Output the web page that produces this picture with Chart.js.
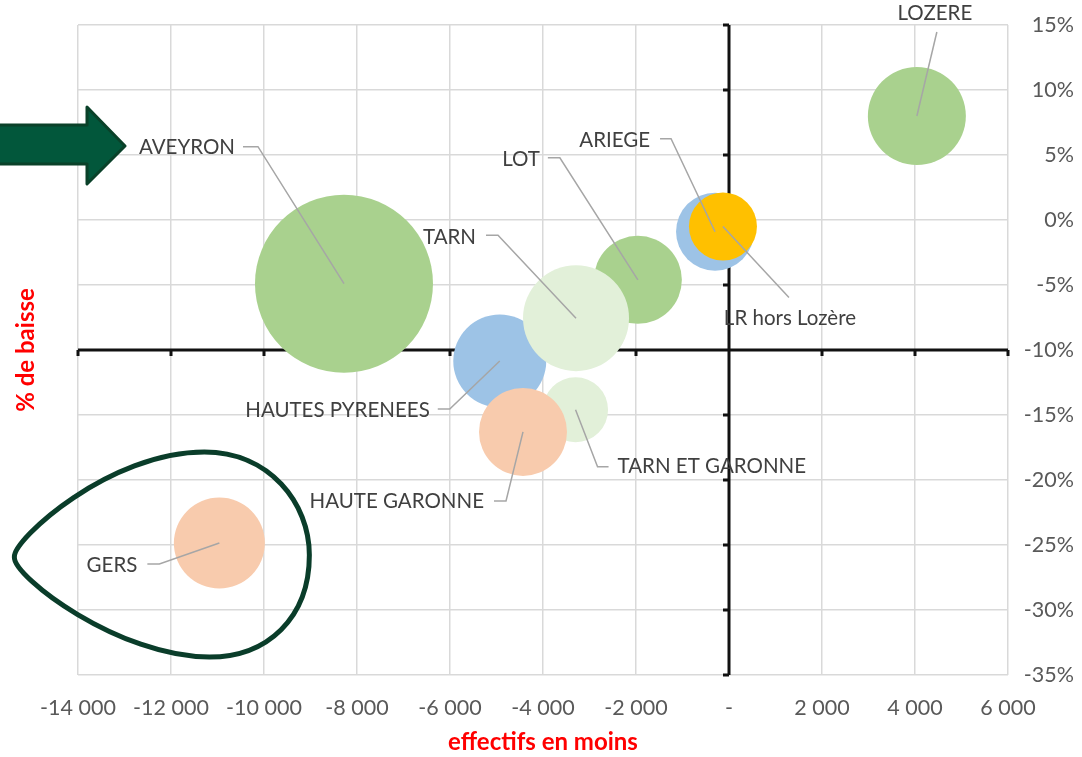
<!DOCTYPE html>
<html>
<head>
<meta charset="utf-8">
<script src="https://cdn.jsdelivr.net/npm/chart.js@4"></script>
<style>
  html, body { margin: 0; padding: 0; background: #fff; }
</style>
</head>
<body>
<canvas id="chart" width="1082" height="757"></canvas>
<script>
var departements = ['AVEYRON', 'GERS', 'LOZERE', 'LOT', 'HAUTES PYRENEES', 'TARN ET GARONNE', 'HAUTE GARONNE', 'TARN', 'ARIEGE', 'LR hors Lozère'];
var effectifs = [-8280, -10960, 4040, -1960, -4930, -3300, -4430, -3290, -300, -130];
var baisse = [-4.9, -24.85, 8.0, -4.6, -10.85, -14.6, -16.3, -7.55, -0.9, -0.5];
var taille = [89, 45.5, 49, 44, 46.5, 32.5, 44, 53, 39, 34];
var couleurs = ['#A9D18E', '#F8CBAD', '#A9D18E', '#A9D18E', '#9DC3E6', '#E2F0D9', '#F8CBAD', '#E2F0D9', '#9DC3E6', '#FFC000'];
var xTicks = [-14000, -12000, -10000, -8000, -6000, -4000, -2000, 0, 2000, 4000, 6000];
var yTicks = [15, 10, 5, 0, -5, -10, -15, -20, -25, -30, -35];

// placement des etiquettes (decalage en px par rapport au centre de la bulle)
var etiquettes = {
  'LOZERE': { dx: 18, dy: -103, align: 'center', path: [[20, -84]] },
  'AVEYRON': { dx: -109, dy: -136, align: 'right', path: [[-101, -137], [-86, -137]] },
  'ARIEGE': { dx: -65, dy: -91, align: 'right', path: [[-55, -93], [-44, -93]] },
  'LOT': { dx: -98, dy: -120, align: 'right', path: [[-90, -122], [-78, -122]] },
  'TARN': { dx: -100, dy: -81, align: 'right', path: [[-90, -83], [-78, -83]] },
  'LR hors Lozère': { dx: 67, dy: 92, align: 'center', path: [[66, 71]] },
  'HAUTES PYRENEES': { dx: -70, dy: 49, align: 'right', path: [[-62, 48], [-50, 48]] },
  'TARN ET GARONNE': { dx: 42, dy: 57, align: 'left', path: [[33, 57], [22, 57]] },
  'HAUTE GARONNE': { dx: -39, dy: 69, align: 'right', path: [[-29, 69], [-17, 69]] },
  'GERS': { dx: -82, dy: 22, align: 'right', path: [[-72, 21], [-60, 21]] }
};

var police = 'Lato, "Liberation Sans", sans-serif';

function formatMilliers(v) {
  if (v === 0) return '-';
  var s = Math.abs(v).toString().replace(/\B(?=(\d{3})+(?!\d))/g, ' ');
  return (v < 0 ? '-' : '') + s;
}

var points = departements.map(function(nom, i) {
  return { x: effectifs[i], y: baisse[i], r: taille[i] };
});

var decor = {
  id: 'decor',
  beforeDatasetsDraw: function(chart) {
    var ctx = chart.ctx;
    var xs = chart.scales.x, ys = chart.scales.y;
    var area = chart.chartArea;
    var x0 = xs.getPixelForValue(0);
    var yAxe = ys.getPixelForValue(-10);
    ctx.save();
    ctx.strokeStyle = '#111';
    ctx.lineWidth = 3;
    ctx.beginPath();
    ctx.moveTo(x0, area.top);
    ctx.lineTo(x0, area.bottom);
    ctx.moveTo(area.left, yAxe);
    ctx.lineTo(area.right, yAxe);
    yTicks.forEach(function(v) {
      var p = ys.getPixelForValue(v);
      ctx.moveTo(x0 - 6, p);
      ctx.lineTo(x0, p);
    });
    xTicks.forEach(function(v) {
      var p = xs.getPixelForValue(v);
      ctx.moveTo(p, yAxe);
      ctx.lineTo(p, yAxe + 6);
    });
    ctx.stroke();
    ctx.restore();
  },
  afterDatasetsDraw: function(chart) {
    var ctx = chart.ctx;
    var meta = chart.getDatasetMeta(0);
    ctx.save();
    ctx.font = '20.5px ' + police;
    ctx.textBaseline = 'middle';
    departements.forEach(function(nom, i) {
      var el = meta.data[i];
      var e = etiquettes[nom];
      ctx.strokeStyle = '#A6A6A6';
      ctx.lineWidth = 1.5;
      ctx.beginPath();
      e.path.forEach(function(p, k) {
        if (k === 0) ctx.moveTo(el.x + p[0], el.y + p[1]);
        else ctx.lineTo(el.x + p[0], el.y + p[1]);
      });
      ctx.lineTo(el.x, el.y);
      ctx.stroke();
      ctx.fillStyle = '#404040';
      ctx.textAlign = e.align;
      ctx.fillText(nom, el.x + e.dx, el.y + e.dy);
    });

    // fleche verte
    ctx.fillStyle = '#02573B';
    ctx.strokeStyle = '#0A4129';
    ctx.lineWidth = 3;
    ctx.lineJoin = 'round';
    ctx.beginPath();
    ctx.moveTo(-5, 125);
    ctx.lineTo(87, 125);
    ctx.lineTo(87, 107);
    ctx.lineTo(125, 146);
    ctx.lineTo(87, 184);
    ctx.lineTo(87, 164);
    ctx.lineTo(-5, 164);
    ctx.closePath();
    ctx.fill();
    ctx.stroke();

    // contour autour du GERS
    var g = meta.data[1];
    ctx.strokeStyle = '#0A3D2A';
    ctx.lineWidth = 5;
    ctx.beginPath();
    ctx.moveTo(g.x - 205, g.y + 14);
    ctx.bezierCurveTo(g.x - 206, g.y - 4, g.x - 110, g.y - 91, g.x - 15, g.y - 91);
    ctx.bezierCurveTo(g.x + 50, g.y - 91, g.x + 90, g.y - 40, g.x + 90, g.y + 12);
    ctx.bezierCurveTo(g.x + 90, g.y + 75, g.x + 48, g.y + 114, g.x - 10, g.y + 114);
    ctx.bezierCurveTo(g.x - 100, g.y + 114, g.x - 206, g.y + 34, g.x - 205, g.y + 14);
    ctx.closePath();
    ctx.stroke();

    // titre axe vertical
    ctx.translate(26, (chart.chartArea.top + chart.chartArea.bottom) / 2);
    ctx.rotate(-Math.PI / 2);
    ctx.fillStyle = '#FF0000';
    ctx.font = 'bold 24px ' + police;
    ctx.textAlign = 'center';
    ctx.fillText('% de baisse', 0, 0);
    ctx.restore();
  }
};

var ctx = document.getElementById('chart').getContext('2d');
var chart = new Chart(ctx, {
  type: 'bubble',
  data: {
    datasets: [{
      data: points,
      backgroundColor: couleurs,
      borderWidth: 0,
      hoverBorderWidth: 0
    }]
  },
  options: {
    responsive: false,
    animation: false,
    layout: { autoPadding: false, padding: { left: 78, top: 25, right: 8, bottom: 0 } },
    plugins: {
      legend: { display: false },
      tooltip: { enabled: false }
    },
    scales: {
      x: {
        type: 'linear',
        min: -14000,
        max: 6000,
        afterBuildTicks: function(scale) {
          scale.ticks = xTicks.map(function(v) { return { value: v }; });
        },
        afterFit: function(scale) { scale.height = 82; },
        grid: { color: '#D9D9D9', lineWidth: 1.5, drawTicks: false },
        border: { display: false },
        ticks: {
          padding: 20,
          maxRotation: 0,
          color: '#595959',
          font: { family: police, size: 21.5 },
          callback: function(v) { return formatMilliers(v); }
        },
        title: {
          display: true,
          text: 'effectifs en moins',
          color: '#FF0000',
          font: { family: police, size: 24, weight: 'bold' },
          padding: { top: 4, bottom: 0 }
        }
      },
      y: {
        type: 'linear',
        position: 'right',
        min: -35,
        max: 15,
        afterBuildTicks: function(scale) {
          scale.ticks = yTicks.map(function(v) { return { value: v }; });
        },
        afterFit: function(scale) { scale.width = 66; },
        grid: { color: '#D9D9D9', lineWidth: 1.5, drawTicks: false },
        border: { display: false },
        ticks: {
          crossAlign: 'far',
          color: '#595959',
          font: { family: police, size: 21.5 },
          callback: function(v) { return v + '%'; }
        }
      }
    }
  },
  plugins: [decor]
});
</script>
</body>
</html>
